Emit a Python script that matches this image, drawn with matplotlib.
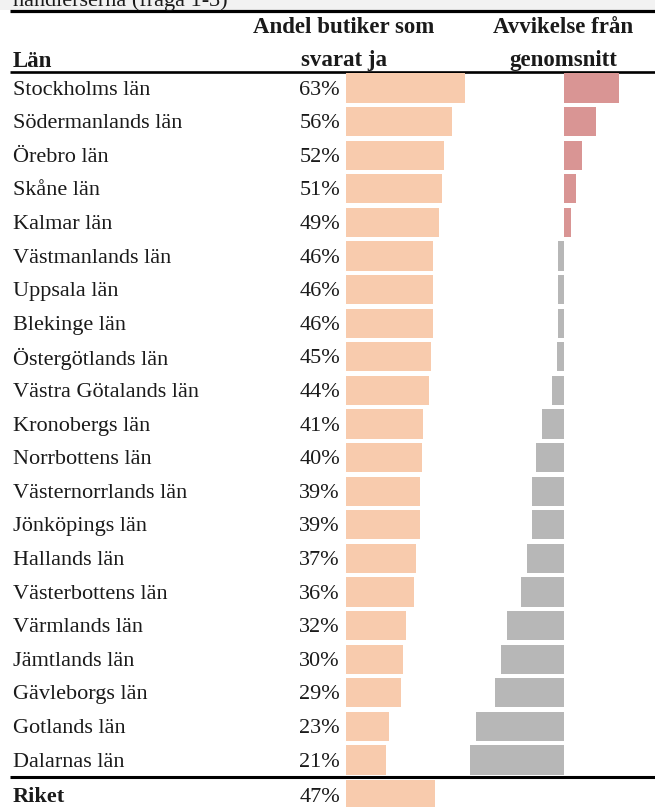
"""Andel butiker som svarat ja per län, med avvikelse från genomsnitt."""

import matplotlib
matplotlib.use("Agg")
import matplotlib.pyplot as plt

lan = ["Stockholms län", "Södermanlands län", "Örebro län", "Skåne län", "Kalmar län",
       "Västmanlands län", "Uppsala län", "Blekinge län", "Östergötlands län",
       "Västra Götalands län", "Kronobergs län", "Norrbottens län", "Västernorrlands län",
       "Jönköpings län", "Hallands län", "Västerbottens län", "Värmlands län",
       "Jämtlands län", "Gävleborgs län", "Gotlands län", "Dalarnas län"]
andel = [63, 56, 52, 51, 49, 46, 46, 46, 45, 44, 41, 40, 39, 39, 37, 36, 32, 30, 29, 23, 21]
avvikelse = [15.5, 9.0, 5.2, 3.5, 2.1, -1.4, -1.4, -1.4, -1.7, -3.1, -6.0, -7.6, -8.7,
             -8.7, -10.1, -11.8, -15.6, -17.3, -19.0, -24.2, -26.1]
riket_namn = "Riket"
riket_andel = 47

W, H = 655, 807
ROW_PX = 33.6       # pixel distance between rows
ROW0 = 88           # pixel y of first bar center
ylim = ((H - ROW0) / ROW_PX, -ROW0 / ROW_PX)

def px2row(y):
    return (y - ROW0) / ROW_PX

plt.rcParams['font.family'] = ['Liberation Serif', 'DejaVu Serif']
TXT = '#1a1a1a'

fig = plt.figure(figsize=(W / 100, H / 100), dpi=100)

# base axis: x in pixels, y in rows
base = fig.add_axes([0, 0, 1, 1])
base.set_xlim(0, W)
base.set_ylim(*ylim)
base.axis('off')

# top band with the (cropped) question text
base.axhspan(px2row(-5), px2row(10), color='#f2f2f2', lw=0)
base.text(13, px2row(6), "handlerserna (fråga 1-3)", fontsize=16, color=TXT, va='baseline')
base.plot([10, W], [px2row(11)] * 2, color='black', lw=2.3, solid_capstyle='butt')
base.plot([10, W], [px2row(72)] * 2, color='black', lw=1.9, solid_capstyle='butt')
base.plot([10, W], [px2row(777)] * 2, color='black', lw=2.2, solid_capstyle='butt')

# headers
hdr = dict(fontsize=16.5, fontweight='bold', color=TXT, va='baseline')
base.text(13, px2row(67), "Län", ha='left', **hdr)
base.text(344, px2row(33), "Andel butiker som", ha='center', **hdr)
base.text(344, px2row(66), "svarat ja", ha='center', **hdr)
base.text(563, px2row(33), "Avvikelse från", ha='center', **hdr)
base.text(563, px2row(66), "genomsnitt", ha='center', **hdr)

rows = list(range(len(lan)))
riket_row = px2row(795)
for i, (namn, v) in enumerate(zip(lan, andel)):
    base.text(13, i + 0.06, namn, fontsize=16, color=TXT, va='center', ha='left')
    base.text(340, i + 0.06, f"{v}%", fontsize=16, color=TXT, va='center', ha='right')
base.text(13, riket_row + 0.06, riket_namn, fontsize=16, fontweight='bold', color=TXT,
          va='center', ha='left')
base.text(340, riket_row + 0.06, f"{riket_andel}%", fontsize=16, color=TXT,
          va='center', ha='right')

# left bars: share answering yes
ax1 = fig.add_axes([346 / W, 0, 189 / W, 1])
ax1.set_xlim(0, 100)
ax1.set_ylim(*ylim)
ax1.axis('off')
ax1.barh(rows, andel, height=0.87, color='#F8CBAD', lw=0)
ax1.barh([riket_row], [riket_andel], height=0.87, color='#F8CBAD', lw=0)

# right bars: deviation from average
ax2 = fig.add_axes([450 / W, 0, 200 / W, 1])
ax2.set_xlim((450 - 563.5) / 3.6, (650 - 563.5) / 3.6)
ax2.set_ylim(*ylim)
ax2.axis('off')
farger = ['#D99594' if d > 0 else '#B7B7B7' for d in avvikelse]
ax2.barh(rows, avvikelse, height=0.87, color=farger, lw=0)

fig.savefig("out.png", dpi=100)
